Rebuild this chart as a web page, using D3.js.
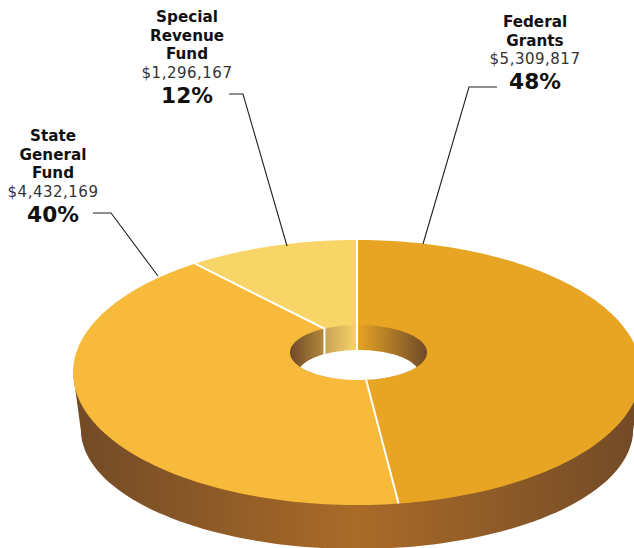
<!DOCTYPE html>
<html>
<head>
<meta charset="utf-8">
<script src="https://d3js.org/d3.v7.min.js"></script>
<style>
body { margin:0; background:#fff; }
svg { display:block; }
text { font-family:"DejaVu Sans", sans-serif; text-anchor:middle; fill:#111; }
.name { font-weight:bold; font-size:15.2px; }
.money { font-size:15px; fill:#333; letter-spacing:.5px; }
.pct { font-weight:bold; font-size:21.7px; }
</style>
</head>
<body>
<script>
// values
var categories = ["Federal Grants", "State General Fund", "Special Revenue Fund"];
var nameLines = [["Federal","Grants"], ["State","General","Fund"], ["Special","Revenue","Fund"]];
var amounts = [5309817, 4432169, 1296167];
var percentLabels = ["48%", "40%", "12%"];
var sliceColors = ["#e8a523", "#f8ba3a", "#f8d567"];

var labelX = [535, 53, 187];
var labelTop = [27, 141, 22];
var leaders = [
	[[497,87],[469,87],[423,244]],
	[[93,213],[111,213],[158,276]],
	[[229,94],[243,94],[287,246]]
];

var width = 634, height = 548;

// the disc is a circle seen in perspective, so the true centre is above the middle of the ellipse
var cx = 357, cy = 345, scaleX = 277.8, scaleY = 126.8, tilt = 0.2075;
var hole = {x:358.5, y:352.5, rx:68.5, ry:27.5};
var floor = {x:358.5, y:374, rx:60.6, ry:24};
var base = {x:357, y:430, rx:276, ry:119};
var baseCornerY = 442;

function project(a)
{
	var u = Math.sin(a), v = -Math.cos(a), w = 1 - tilt*v;
	return [cx + scaleX*u/w, cy + scaleY*v/w];
}

function circlePoints(a0, a1, n, fn)
{
	return d3.range(n+1).map(function(i){ return fn(a0 + (a1-a0)*i/n); });
}

function ellipsePath(e)
{
	return d3.line()(circlePoints(0, 2*Math.PI, 180, function(a){
		return [e.x + e.rx*Math.sin(a), e.y - e.ry*Math.cos(a)];
	})) + "Z";
}

// where the ray from the centre towards the rim crosses the upper edge of the hole
function holeCross(a)
{
	var p = project(a), dx = p[0]-cx, dy = p[1]-cy;
	var ox = cx-hole.x, oy = cy-hole.y;
	var A = dx*dx/(hole.rx*hole.rx) + dy*dy/(hole.ry*hole.ry);
	var B = 2*(ox*dx/(hole.rx*hole.rx) + oy*dy/(hole.ry*hole.ry));
	var C = ox*ox/(hole.rx*hole.rx) + oy*oy/(hole.ry*hole.ry) - 1;
	var t = (-B + Math.sqrt(B*B-4*A*C))/(2*A);
	return [cx+dx*t, cy+dy*t];
}

var pie = d3.pie().sort(null).value(function(d){ return d; });
var slices = pie(amounts);

var svg = d3.select("body").append("svg").attr("width", width).attr("height", height);
var defs = svg.append("defs");

var wallGrad = defs.append("linearGradient").attr("id","wallGrad")
	.attr("gradientUnits","userSpaceOnUse")
	.attr("x1", base.x-base.rx).attr("x2", base.x+base.rx).attr("y1",0).attr("y2",0);
wallGrad.selectAll("stop").data([[0,"#734b27"],[0.5,"#aa6b28"],[1,"#734b27"]]).enter().append("stop")
	.attr("offset", function(d){ return d[0]; }).attr("stop-color", function(d){ return d[1]; });

var specialEdge = holeCross(slices[2].startAngle);
var holeOffset = d3.scaleLinear().domain([hole.x-hole.rx, hole.x+hole.rx]).range([0,1]);
var holeStops = [
	[hole.x-hole.rx, "#6f4a28"],
	[specialEdge[0], "#b4893c"],
	[specialEdge[0], "#c8a257"],
	[cx, "#f8d567"],
	[cx, "#e8a523"],
	[hole.x+hole.rx, "#6f4a28"]
];
var holeGrad = defs.append("linearGradient").attr("id","holeGrad")
	.attr("gradientUnits","userSpaceOnUse")
	.attr("x1", hole.x-hole.rx).attr("x2", hole.x+hole.rx).attr("y1",0).attr("y2",0);
holeGrad.selectAll("stop").data(holeStops).enter().append("stop")
	.attr("offset", function(d){ return holeOffset(d[0]); }).attr("stop-color", function(d){ return d[1]; });

defs.append("clipPath").attr("id","holeClip").append("path").attr("d", ellipsePath(hole));

// side of the disc
var rimLeft = cx - scaleX/Math.sqrt(1-tilt*tilt);
var rimRight = cx + scaleX/Math.sqrt(1-tilt*tilt);
var rimY = cy + scaleY*tilt/(1-tilt*tilt);
var cornerK = (baseCornerY-base.y)/base.ry;
var cornerDx = base.rx*Math.sqrt(1-cornerK*cornerK);
svg.append("path").attr("d", ellipsePath(base)).attr("fill","url(#wallGrad)");
svg.append("path")
	.attr("d", d3.line()([[rimLeft,rimY],[rimRight,rimY],[base.x+cornerDx,baseCornerY],[base.x-cornerDx,baseCornerY]])+"Z")
	.attr("fill","url(#wallGrad)");

// top face
var sliceLine = d3.line();
svg.selectAll("path.slice").data(slices).enter().append("path")
	.attr("class","slice")
	.attr("d", function(d){
		return sliceLine([[cx,cy]].concat(circlePoints(d.startAngle, d.endAngle, 120, project))) + "Z";
	})
	.attr("fill", function(d,i){ return sliceColors[i]; });

svg.selectAll("line.sep").data(slices).enter().append("line")
	.attr("class","sep")
	.attr("x1",cx).attr("y1",cy)
	.attr("x2", function(d){ return project(d.startAngle)[0]; })
	.attr("y2", function(d){ return project(d.startAngle)[1]; })
	.attr("stroke","#fff").attr("stroke-width",2);

// hole with its inner wall
svg.append("path").attr("d", ellipsePath(hole)).attr("fill","url(#holeGrad)");
svg.append("path").attr("d", ellipsePath(floor)).attr("fill","#fff").attr("clip-path","url(#holeClip)");
svg.selectAll("line.inner").data([specialEdge, holeCross(0)]).enter().append("line")
	.attr("class","inner")
	.attr("x1", function(d){ return d[0]; }).attr("x2", function(d){ return d[0]; })
	.attr("y1", function(d){ return d[1]; })
	.attr("y2", function(d){
		var k = (d[0]-floor.x)/floor.rx;
		return floor.y - floor.ry*Math.sqrt(1-k*k);
	})
	.attr("stroke","#fff").attr("stroke-width",2);

// leaders
svg.selectAll("path.leader").data(leaders).enter().append("path")
	.attr("class","leader")
	.attr("d", function(d){ return d3.line()(d); })
	.attr("fill","none").attr("stroke","#222").attr("stroke-width",1.1);

// labels
var lineGap = 18.7;
categories.forEach(function(c, i){
	var g = svg.append("g").attr("transform","translate("+labelX[i]+","+labelTop[i]+")");
	nameLines[i].forEach(function(t, j){
		g.append("text").attr("class","name").attr("y", j*lineGap).text(t);
	});
	var n = nameLines[i].length;
	g.append("text").attr("class","money").attr("y", n*lineGap-0.5)
		.text("$" + d3.format(",")(amounts[i]));
	g.append("text").attr("class","pct").attr("y", n*lineGap+25)
		.text(percentLabels[i]);
});
</script>
</body>
</html>
